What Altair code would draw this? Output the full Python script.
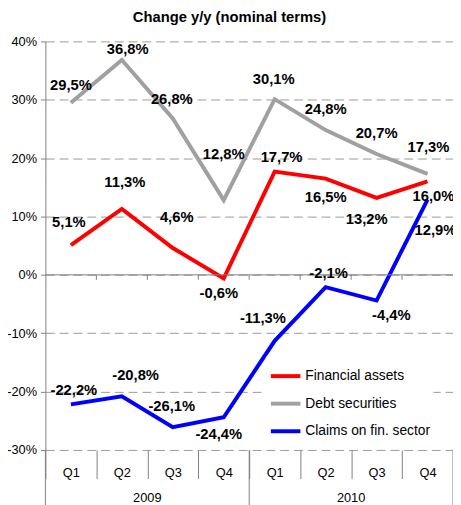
import altair as alt
import pandas as pd

quarters = ["Q1", "Q2", "Q3", "Q4", "Q1", "Q2", "Q3", "Q4"]
years = ["2009"] * 4 + ["2010"] * 4
financial_assets = [5.1, 11.3, 4.6, -0.6, 17.7, 16.5, 13.2, 16.0]
debt_securities = [29.5, 36.8, 26.8, 12.8, 30.1, 24.8, 20.7, 17.3]
claims_fin_sector = [-22.2, -20.8, -26.1, -24.4, -11.3, -2.1, -4.4, 12.9]
series_names = ["Financial assets", "Debt securities", "Claims on fin. sector"]
series_colors = ["#FF0000", "#A0A0A0", "#0000FF"]
y_ticks = [-30, -20, -10, 0, 10, 20, 30, 40]

# label placement nudges in pixels (dx, dy) relative to each data point
label_nudge = {
    "Financial assets": [(-2, -23), (3, -27), (4, -31), (-5, 15), (7, -15), (0, 19), (-10, 22), (6, 15)],
    "Debt securities": [(0, -18), (6, -11), (-1, -20), (0, -47), (-1, -20), (0, -21), (0, -21), (1, -27)],
    "Claims on fin. sector": [(3, -15), (14, -22), (-1, -21), (-5, 17), (-12, -23), (3, -14), (15, 15), (8, 31)],
}

W, H = 414, 415
FONT = "Liberation Sans"
periods = [f"{y} {q}" for y, q in zip(years, quarters)]
n = len(periods)
y_span = y_ticks[-1] - y_ticks[0]

rows = []
for name, vals in zip(series_names, [financial_assets, debt_securities, claims_fin_sector]):
    for i, (p, v) in enumerate(zip(periods, vals)):
        dx, dy = label_nudge[name][i]
        rows.append(dict(series=name, period=p, value=v,
                         label=f"{v:.1f}".replace(".", ",") + "%",
                         lx=i + 0.5 + dx * n / W,
                         ly=v - dy * y_span / H))
df = pd.DataFrame(rows)

# year groups
year_list = list(dict.fromkeys(years))
starts = pd.DataFrame({"period": [periods[years.index(y)] for y in year_list]})
ends = pd.DataFrame({"period": [periods[-1]]})
mids = pd.DataFrame({"period": [periods[years.index(y) + years.count(y) // 2 - 1] for y in year_list],
                     "year": year_list})
inner = pd.DataFrame({"period": periods[1:]})

xscale = alt.Scale(type="band", domain=periods, paddingInner=0, paddingOuter=0)

lines = alt.Chart(df).mark_line(strokeWidth=4).encode(
    x=alt.X("period:N", scale=xscale, bandPosition=0.5,
            axis=alt.Axis(title=None, labelExpr="split(datum.value, ' ')[1]", tickBand="extent",
                          tickSize=29, labelPadding=-12, domain=False, grid=False,
                          tickColor="#808080", labelFontSize=13, labelFont=FONT,
                          labelColor="black", labelAngle=0, labelOverlap=False)),
    y=alt.Y("value:Q", scale=alt.Scale(domain=[y_ticks[0], y_ticks[-1]], nice=False),
            axis=alt.Axis(values=y_ticks, labelExpr="datum.value + '%'", grid=True,
                          gridDash=[9, 5], gridColor="#999999", tickSize=5,
                          domainColor="#808080", tickColor="#808080", labelPadding=4,
                          labelFontSize=13, labelFont=FONT, labelColor="black", title=None)),
    color=alt.Color("series:N", sort=series_names,
                    scale=alt.Scale(domain=series_names, range=series_colors),
                    legend=alt.Legend(title=None, orient="none", legendX=224, legendY=320,
                                      symbolType="stroke", symbolStrokeWidth=4, symbolSize=900,
                                      labelFontSize=14, labelFont=FONT, labelColor="black",
                                      labelOffset=3, rowPadding=3, fillColor="white",
                                      padding=3)),
)

zero = alt.Chart(pd.DataFrame({"z": [0]})).mark_rule(color="#808080", strokeWidth=1).encode(
    y=alt.Y("z:Q"))

zero_ticks = alt.Chart(inner).mark_rule(color="#808080").encode(
    x=alt.X("period:N", scale=xscale, bandPosition=0),
    y=alt.datum(0), y2=alt.datum(-0.85))

div_start = alt.Chart(starts).mark_rule(color="#808080").encode(
    x=alt.X("period:N", scale=xscale, bandPosition=0),
    y=alt.value(H), y2=alt.value(H + 60))
div_end = alt.Chart(ends).mark_rule(color="#808080").encode(
    x=alt.X("period:N", scale=xscale, bandPosition=1),
    y=alt.value(H), y2=alt.value(H + 60))

year_text = alt.Chart(mids).mark_text(font=FONT, fontSize=13, color="black").encode(
    x=alt.X("period:N", scale=xscale, bandPosition=1),
    y=alt.value(H + 49), text="year:N")

base = alt.layer(lines, zero, zero_ticks, div_start, div_end, year_text)

labels = alt.Chart(df).mark_text(font=FONT, fontWeight="bold", fontSize=15, color="black").encode(
    x=alt.X("lx:Q", scale=alt.Scale(domain=[0, n]), axis=None),
    y=alt.Y("ly:Q"),
    text="label:N")

chart = alt.layer(base, labels).resolve_scale(x="independent").properties(
    width=W, height=H,
    title=alt.Title("Change y/y (nominal terms)", fontSize=15, font=FONT, fontWeight="bold",
                    anchor="middle", offset=11, dx=-20, color="black"),
    autosize=alt.AutoSizeParams(type="none"),
    padding={"left": 38, "top": 30, "right": 0, "bottom": 52},
).configure_view(stroke=None)

chart.save("out.html", embed_options={"renderer": "svg", "actions": False})
